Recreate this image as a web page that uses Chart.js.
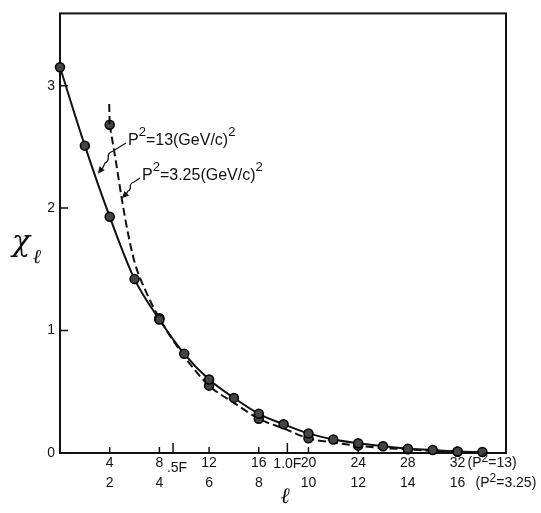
<!DOCTYPE html>
<html><head><meta charset="utf-8">
<script src="https://cdn.jsdelivr.net/npm/chart.js@4/dist/chart.umd.min.js"></script>
<style>html,body{margin:0;padding:0;background:#fff}#wrap{width:541px;height:513px;position:relative}</style>
</head><body><div id="wrap"><canvas id="c"></canvas></div>
<script>
// ---- data ----
const solidL   = [0,2,4,6,8,10,12,14,16,18,20,22,24,26,28,30,32,34];
const solidChi = [3.15,2.51,1.93,1.42,1.09,0.81,0.60,0.45,0.32,0.235,0.16,0.11,0.08,0.055,0.035,0.025,0.012,0.008];
const dashedStubL   = [3.96,4];
const dashedStubChi = [2.85,2.68];
const dashedL   = [4,4.5,5,5.5,6,7,8,10,12,14,16,18,20,22,24,26,28,30,32];
const dashedChi = [2.68,2.38,2.06,1.78,1.56,1.30,1.10,0.79,0.55,0.41,0.28,0.20,0.12,0.085,0.06,0.04,0.03,0.018,0.01];
const dashedMarked = [4,8,12,16,20,24,28,32];
const xTickTop    = [4,8,12,16,20,24,28,32];
const xTickBottom = ['2','4','6','8','10','12','14','16'];
const fTicks  = [9.1,18.3];
const fLabels = ['.5F','1.0F'];
const yTicks  = [0,1,2,3];

const INK = '#111';
const FONT = '"Liberation Sans", Arial, sans-serif';

function rich(ctx, parts, x, y, size, supSize, raise){
  ctx.textAlign='left'; ctx.textBaseline='middle';
  let cx = x;
  parts.forEach(([t,sup])=>{
    ctx.font = (sup?supSize:size)+'px '+FONT;
    ctx.fillText(t, cx, sup? y-raise : y);
    cx += ctx.measureText(t).width;
  });
}
function arrowHead(ctx, fx, fy, tx, ty){
  const ang = Math.atan2(ty-fy, tx-fx), L=7, W=3.2;
  ctx.beginPath();
  ctx.moveTo(tx,ty);
  ctx.lineTo(tx-L*Math.cos(ang)+W*Math.sin(ang), ty-L*Math.sin(ang)-W*Math.cos(ang));
  ctx.lineTo(tx-L*Math.cos(ang)-W*Math.sin(ang), ty-L*Math.sin(ang)+W*Math.cos(ang));
  ctx.closePath(); ctx.fill();
}

const deco = {
  id:'deco',
  beforeDatasetsDraw(chart){
    const {ctx, chartArea:a, scales:{x,y}} = chart;
    ctx.save();
    ctx.strokeStyle=INK; ctx.lineWidth=2;
    ctx.strokeRect(a.left,a.top,a.right-a.left,a.bottom-a.top);
    ctx.lineWidth=1.5;
    ctx.beginPath();
    xTickTop.forEach(v=>{const px=x.getPixelForValue(v); ctx.moveTo(px,a.bottom); ctx.lineTo(px,a.bottom-6);});
    fTicks.forEach(v=>{const px=x.getPixelForValue(v); ctx.moveTo(px,a.bottom); ctx.lineTo(px,a.bottom-10);});
    yTicks.forEach(v=>{const py=y.getPixelForValue(v); ctx.moveTo(a.left,py); ctx.lineTo(a.left+8,py);});
    ctx.stroke();
    ctx.restore();
  },
  afterDraw(chart){
    const {ctx, chartArea:a, scales:{x,y}} = chart;
    ctx.save();
    ctx.fillStyle=INK; ctx.strokeStyle=INK;
    // F labels
    ctx.font='14px '+FONT; ctx.textAlign='center'; ctx.textBaseline='middle';
    ctx.fillText(fLabels[0], x.getPixelForValue(fTicks[0])+4, a.bottom+15);
    ctx.fillText(fLabels[1], x.getPixelForValue(fTicks[1]), a.bottom+11);
    // scale suffixes
    const p32 = x.getPixelForValue(32);
    rich(ctx, [['(P'],['2',1],['=13)']], p32+10, a.bottom+10, 14, 12, 4);
    rich(ctx, [['(P'],['2',1],['=3.25)']], p32+18, a.bottom+30, 14, 12, 4);
    // curve labels
    rich(ctx, [['P'],['2',1],['=13(GeV/c)'],['2',1]], 128, 141, 16, 13, 9);
    rich(ctx, [['P'],['2',1],['=3.25(GeV/c)'],['2',1]], 142, 176, 16, 13, 9);
    // leaders
    ctx.lineWidth=1.3;
    const t1x = x.getPixelForValue(3.05), t1y = y.getPixelForValue(2.28);
    ctx.beginPath();
    ctx.moveTo(126,143); ctx.lineTo(113,151);
    ctx.bezierCurveTo(104,154, 112,160, 105,163);
    ctx.lineTo(t1x+3,t1y-2);
    ctx.stroke();
    arrowHead(ctx, 106,163, t1x, t1y);
    const t2x = x.getPixelForValue(4.98), t2y = y.getPixelForValue(2.08);
    ctx.beginPath();
    ctx.moveTo(140,178); ctx.lineTo(134,182);
    ctx.bezierCurveTo(126,185, 134,189, 128,191);
    ctx.lineTo(t2x+3,t2y-2);
    ctx.stroke();
    arrowHead(ctx, 129,191, t2x, t2y);
    // axis titles
    ctx.textAlign='center'; ctx.textBaseline='middle';
    ctx.font='italic 30px "DejaVu Serif", serif';
    ctx.fillText('χ', 21, 243);
    ctx.font='italic 20px "DejaVu Serif", serif';
    ctx.fillText('ℓ', 37, 258);
    ctx.font='italic 22px "DejaVu Serif", serif';
    ctx.fillText('ℓ', 285, 497);
    ctx.restore();
  }
};

const markerStyle = {pointBackgroundColor:'#444', pointBorderColor:'#000', pointBorderWidth:1.5};

new Chart(document.getElementById('c'), {
  type:'line',
  data:{datasets:[
    Object.assign({label:'P²=13', data: solidL.map((l,i)=>({x:l,y:solidChi[i]})),
     borderColor:INK, borderWidth:2, pointRadius:4.5,
     cubicInterpolationMode:'monotone', fill:false, clip:false}, markerStyle),
    {label:'P²=3.25 top', data: dashedStubL.map((l,i)=>({x:l,y:dashedStubChi[i]})),
     borderColor:INK, borderWidth:2, borderDash:[8,4], pointRadius:0, tension:0, fill:false, clip:false},
    Object.assign({label:'P²=3.25', data: dashedL.map((l,i)=>({x:l,y:dashedChi[i]})),
     borderColor:INK, borderWidth:2, borderDash:[8,4],
     pointRadius: c => dashedMarked.includes(dashedL[c.dataIndex]) ? 4.5 : 0,
     cubicInterpolationMode:'monotone', fill:false, clip:false}, markerStyle)
  ]},
  options:{
    responsive:true, maintainAspectRatio:false, animation:false,
    layout:{padding:{left:0,top:10,right:35,bottom:0}},
    plugins:{legend:{display:false}, tooltip:{enabled:false}},
    scales:{
      x:{type:'linear', min:0, max:35.9,
         afterBuildTicks: s=>{ s.ticks = [...xTickTop, ...fTicks].sort((a,b)=>a-b).map(v=>({value:v})); },
         afterFit: s=>{ s.height = 60; },
         grid:{display:false, drawTicks:false}, border:{display:false},
         ticks:{autoSkip:false, maxRotation:0, padding:0, color:INK,
                font:{family:FONT, size:14, lineHeight:20/14},
                callback:(v)=>{ const i=xTickTop.indexOf(v); return i>=0 ? [String(v), xTickBottom[i]] : ''; }}},
      y:{type:'linear', min:0, max:3.59,
         afterBuildTicks: s=>{ s.ticks = yTicks.map(v=>({value:v})); },
         afterFit: s=>{ s.width = 60; },
         grid:{display:false, drawTicks:false}, border:{display:false},
         ticks:{padding:5, color:INK, font:{family:FONT, size:14}, callback:v=>String(v)}}
    }
  },
  plugins:[deco]
});
</script></body></html>
